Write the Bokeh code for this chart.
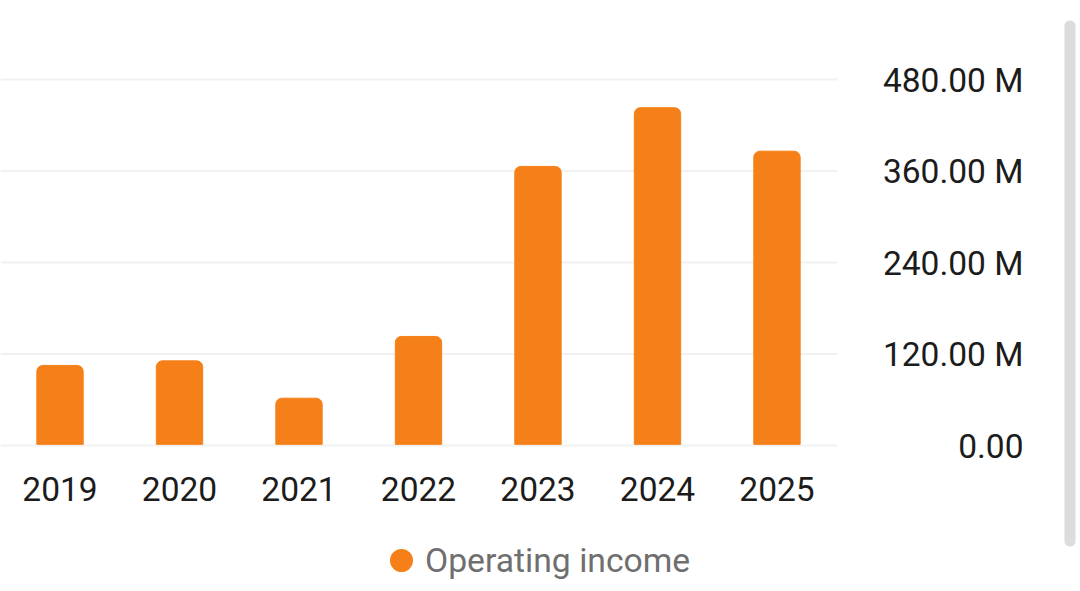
from bokeh.plotting import figure
from bokeh.embed import file_html
from bokeh.resources import INLINE
from bokeh.core.properties import value
from bokeh.models import Range1d, FixedTicker, Legend, LegendItem, BoxAnnotation, LabelSet, ColumnDataSource

years = [2019, 2020, 2021, 2022, 2023, 2024, 2025]
operating_income = [105, 111, 62, 143, 366, 443, 386]  # millions
y_ticks = [0, 120, 240, 360, 480]
y_labels = ["0.00", "120.00 M", "240.00 M", "360.00 M", "480.00 M"]

ORANGE = "#f58019"

# the frame fills the whole page, annotations get clipped to it otherwise
x_start, x_grid_end = 2018.502, 2025.506
p = figure(width=1080, height=591,
           x_range=Range1d(x_start, 2027.54), y_range=Range1d(-191.5, 583.6),
           output_backend="svg", toolbar_location=None,
           min_border_left=0, min_border_top=0, min_border_right=0, min_border_bottom=0)
p.outline_line_color = None
p.background_fill_color = "white"
p.yaxis.visible = False
p.xgrid.visible = False
p.ygrid.visible = False

# grid lines stop before the value labels
p.segment(x0=[x_start] * len(y_ticks), x1=[x_grid_end] * len(y_ticks), y0=y_ticks, y1=y_ticks,
          line_color="#f1f1f1", line_width=2)

# bars stop just above the zero line
p.vbar(x=years, top=operating_income, bottom=1.5, width=0.388, color=ORANGE,
       border_radius=(6, 6, 0, 0))

# x axis: years only
p.xaxis.fixed_location = 0
p.xaxis.ticker = FixedTicker(ticks=years)
p.xaxis.major_label_overrides = {y: str(y) for y in years}
p.xaxis.axis_line_color = None
p.xaxis.major_tick_line_color = None
p.xaxis.minor_tick_line_color = None
p.xaxis.major_label_standoff = 26
p.xaxis.major_label_text_font = "Roboto"
p.xaxis.major_label_text_font_size = "33.5px"
p.xaxis.major_label_text_color = "#1c1c1c"

# value labels, right aligned at the right side
labels = LabelSet(x="x", y="y", text="text", x_units="screen", y_offset=-1,
                  source=ColumnDataSource(dict(x=[1023] * len(y_ticks), y=y_ticks, text=y_labels)),
                  text_align="right", text_baseline="middle", text_font=value("Roboto"),
                  text_font_size="33.5px", text_color="#1c1c1c")
p.add_layout(labels)

# legend dot is sized from the glyph box, the outline makes up the rest
dot = p.scatter(x=years, y=operating_income, size=0, color=ORANGE, line_width=3.8)
legend = Legend(items=[LegendItem(label="Operating income", renderers=[dot])],
                location=(377, 7), orientation="horizontal", border_line_color=None,
                background_fill_alpha=0, padding=0, margin=0, spacing=0,
                glyph_width=48, glyph_height=48, label_standoff=0,
                label_text_font="Roboto", label_text_font_size="33.7px",
                label_text_color="#6f6f6f")
p.add_layout(legend)

# scrollbar of the screenshot
p.add_layout(BoxAnnotation(left=1064, right=1075, top=571, bottom=45,
                           left_units="screen", right_units="screen",
                           top_units="screen", bottom_units="screen",
                           fill_color="#dcdcdc", fill_alpha=1, line_color=None,
                           border_radius=5))

open("out.html", "w").write(file_html(p, INLINE))
